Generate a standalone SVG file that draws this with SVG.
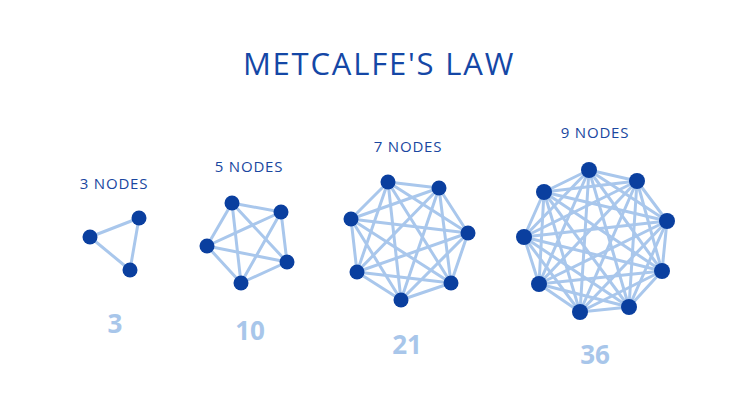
<svg xmlns="http://www.w3.org/2000/svg" width="750" height="400" viewBox="0 0 750 400">
<style>
.title{font-family:"Open Sans","Noto Sans","Liberation Sans",sans-serif;font-size:31px;fill:#1447a6;text-anchor:middle;letter-spacing:1.8px}
.lbl{font-family:"Open Sans","Noto Sans","Liberation Sans",sans-serif;font-size:15px;fill:#1a47a0;text-anchor:middle;letter-spacing:0.8px}
.num{font-family:"Open Sans","Noto Sans","Liberation Sans",sans-serif;font-size:26px;font-weight:bold;fill:#a8c6ea;text-anchor:middle}
.e line{stroke:#a9c7ec;stroke-width:3;stroke-linecap:round}
.n{fill:#0a3f9f}
</style>
<rect width="750" height="400" fill="#ffffff"/>
<text class="title" x="379" y="75">METCALFE'S LAW</text>
<g id="connectors" class="e">
<line x1="90" y1="237" x2="139" y2="218"/>
<line x1="90" y1="237" x2="130" y2="270"/>
<line x1="139" y1="218" x2="130" y2="270"/>

<line x1="232" y1="203" x2="281" y2="212"/>
<line x1="232" y1="203" x2="207" y2="246"/>
<line x1="232" y1="203" x2="287" y2="262"/>
<line x1="232" y1="203" x2="241" y2="283"/>
<line x1="281" y1="212" x2="207" y2="246"/>
<line x1="281" y1="212" x2="287" y2="262"/>
<line x1="281" y1="212" x2="241" y2="283"/>
<line x1="207" y1="246" x2="287" y2="262"/>
<line x1="207" y1="246" x2="241" y2="283"/>
<line x1="287" y1="262" x2="241" y2="283"/>

<line x1="388" y1="182" x2="439" y2="188"/>
<line x1="388" y1="182" x2="351" y2="219"/>
<line x1="388" y1="182" x2="468" y2="233"/>
<line x1="388" y1="182" x2="357" y2="272"/>
<line x1="388" y1="182" x2="451" y2="283"/>
<line x1="388" y1="182" x2="401" y2="300"/>
<line x1="439" y1="188" x2="351" y2="219"/>
<line x1="439" y1="188" x2="468" y2="233"/>
<line x1="439" y1="188" x2="357" y2="272"/>
<line x1="439" y1="188" x2="451" y2="283"/>
<line x1="439" y1="188" x2="401" y2="300"/>
<line x1="351" y1="219" x2="468" y2="233"/>
<line x1="351" y1="219" x2="357" y2="272"/>
<line x1="351" y1="219" x2="451" y2="283"/>
<line x1="351" y1="219" x2="401" y2="300"/>
<line x1="468" y1="233" x2="357" y2="272"/>
<line x1="468" y1="233" x2="451" y2="283"/>
<line x1="468" y1="233" x2="401" y2="300"/>
<line x1="357" y1="272" x2="451" y2="283"/>
<line x1="357" y1="272" x2="401" y2="300"/>
<line x1="451" y1="283" x2="401" y2="300"/>

<line x1="589" y1="170" x2="637" y2="181"/>
<line x1="589" y1="170" x2="544" y2="192"/>
<line x1="589" y1="170" x2="667" y2="221"/>
<line x1="589" y1="170" x2="524" y2="237"/>
<line x1="589" y1="170" x2="662" y2="271"/>
<line x1="589" y1="170" x2="539" y2="284"/>
<line x1="589" y1="170" x2="629" y2="307"/>
<line x1="589" y1="170" x2="580" y2="312"/>
<line x1="637" y1="181" x2="544" y2="192"/>
<line x1="637" y1="181" x2="667" y2="221"/>
<line x1="637" y1="181" x2="524" y2="237"/>
<line x1="637" y1="181" x2="662" y2="271"/>
<line x1="637" y1="181" x2="539" y2="284"/>
<line x1="637" y1="181" x2="629" y2="307"/>
<line x1="637" y1="181" x2="580" y2="312"/>
<line x1="544" y1="192" x2="667" y2="221"/>
<line x1="544" y1="192" x2="524" y2="237"/>
<line x1="544" y1="192" x2="662" y2="271"/>
<line x1="544" y1="192" x2="539" y2="284"/>
<line x1="544" y1="192" x2="629" y2="307"/>
<line x1="544" y1="192" x2="580" y2="312"/>
<line x1="667" y1="221" x2="524" y2="237"/>
<line x1="667" y1="221" x2="662" y2="271"/>
<line x1="667" y1="221" x2="539" y2="284"/>
<line x1="667" y1="221" x2="629" y2="307"/>
<line x1="667" y1="221" x2="580" y2="312"/>
<line x1="524" y1="237" x2="662" y2="271"/>
<line x1="524" y1="237" x2="539" y2="284"/>
<line x1="524" y1="237" x2="629" y2="307"/>
<line x1="524" y1="237" x2="580" y2="312"/>
<line x1="662" y1="271" x2="539" y2="284"/>
<line x1="662" y1="271" x2="629" y2="307"/>
<line x1="662" y1="271" x2="580" y2="312"/>
<line x1="539" y1="284" x2="629" y2="307"/>
<line x1="539" y1="284" x2="580" y2="312"/>
<line x1="629" y1="307" x2="580" y2="312"/>
</g>

<g id="net3">
<text class="lbl" x="114" y="189">3 NODES</text>
<circle id="n3-1" class="n" cx="90" cy="237" r="7.5"/>
<circle id="n3-2" class="n" cx="139" cy="218" r="7.5"/>
<circle id="n3-3" class="n" cx="130" cy="270" r="7.5"/>
<text class="num" x="115" y="333">3</text>
</g>
<g id="net5">
<text class="lbl" x="249" y="172">5 NODES</text>
<circle id="n5-1" class="n" cx="232" cy="203" r="7.5"/>
<circle id="n5-2" class="n" cx="281" cy="212" r="7.5"/>
<circle id="n5-3" class="n" cx="207" cy="246" r="7.5"/>
<circle id="n5-4" class="n" cx="287" cy="262" r="7.5"/>
<circle id="n5-5" class="n" cx="241" cy="283" r="7.5"/>
<text class="num" x="250" y="340">10</text>
</g>
<g id="net7">
<text class="lbl" x="408" y="152">7 NODES</text>
<circle id="n7-1" class="n" cx="388" cy="182" r="7.5"/>
<circle id="n7-2" class="n" cx="439" cy="188" r="7.5"/>
<circle id="n7-3" class="n" cx="351" cy="219" r="7.5"/>
<circle id="n7-4" class="n" cx="468" cy="233" r="7.5"/>
<circle id="n7-5" class="n" cx="357" cy="272" r="7.5"/>
<circle id="n7-6" class="n" cx="451" cy="283" r="7.5"/>
<circle id="n7-7" class="n" cx="401" cy="300" r="7.5"/>
<text class="num" x="407" y="354">21</text>
</g>
<g id="net9">
<text class="lbl" x="595" y="138">9 NODES</text>
<circle id="n9-1" class="n" cx="589" cy="170" r="8"/>
<circle id="n9-2" class="n" cx="637" cy="181" r="8"/>
<circle id="n9-3" class="n" cx="544" cy="192" r="8"/>
<circle id="n9-4" class="n" cx="667" cy="221" r="8"/>
<circle id="n9-5" class="n" cx="524" cy="237" r="8"/>
<circle id="n9-6" class="n" cx="662" cy="271" r="8"/>
<circle id="n9-7" class="n" cx="539" cy="284" r="8"/>
<circle id="n9-8" class="n" cx="629" cy="307" r="8"/>
<circle id="n9-9" class="n" cx="580" cy="312" r="8"/>
<text class="num" x="595" y="364">36</text>
</g>
</svg>
